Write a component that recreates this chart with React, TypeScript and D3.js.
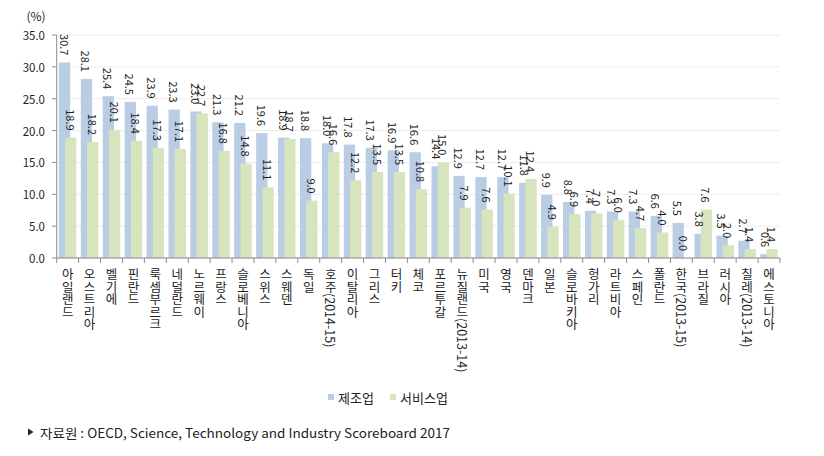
import React from "react";
import * as d3 from "d3";

const countries = [
  "아일랜드", "오스트리아", "벨기에", "핀란드", "룩셈부르크", "네덜란드", "노르웨이", "프랑스",
  "슬로베니아", "스위스", "스웨덴", "독일", "호주(2014-15)", "이탈리아", "그리스", "터키",
  "체코", "포르투갈", "뉴질랜드(2013-14)", "미국", "영국", "덴마크", "일본", "슬로바키아",
  "헝가리", "라트비아", "스페인", "폴란드", "한국(2013-15)", "브라질", "러시아", "칠레(2013-14)", "에스토니아",
];
const manufacturing = [
  30.7, 28.1, 25.4, 24.5, 23.9, 23.3, 23.0, 21.3, 21.2, 19.6, 18.9, 18.8, 18.0, 17.8, 17.3, 16.9,
  16.6, 14.4, 12.9, 12.7, 12.7, 11.8, 9.9, 8.8, 7.4, 7.3, 7.3, 6.6, 5.5, 3.8, 3.5, 2.7, 0.6,
];
const services = [
  18.9, 18.2, 20.1, 18.4, 17.3, 17.1, 22.7, 16.8, 14.8, 11.1, 18.7, 9.0, 16.6, 12.2, 13.5, 13.5,
  10.8, 15.0, 7.9, 7.6, 10.1, 12.4, 4.9, 6.9, 7.0, 6.0, 4.7, 4.0, 0.0, 7.6, 2.0, 1.4, 1.4,
];
const yTicks = [0, 5, 10, 15, 20, 25, 30, 35];
const seriesNames = ["제조업", "서비스업"];
const colors = ["#B9CDE5", "#D7E4BD"];

const W = 824;
const H = 456;
const FONT = "'Noto Sans CJK KR', 'Noto Sans', sans-serif";

export default function App() {
  const x = d3.scaleBand<string>().domain(countries).range([56.7, 780]).padding(0);
  const y = d3.scaleLinear().domain([0, 35]).range([258, 35]);
  const bw = x.bandwidth();
  const sub = d3.scaleLinear().domain([0, 1]).range([0, bw]);
  const barW = sub(0.515);
  const offs = [sub(0.1), sub(0.383)];
  const series = [manufacturing, services];
  const fmt = d3.format(".1f");

  return (
    <svg
      width={W}
      height={H}
      style={{ position: "absolute", left: 0, top: 0, background: "#fff" }}
      fontFamily={FONT}
    >
      {/* gridlines */}
      {yTicks.map((t) => (
        <line key={"g" + t} x1={56.7} x2={780} y1={y(t)} y2={y(t)} stroke="#ececec" strokeWidth={1} />
      ))}
      {/* y axis */}
      <line x1={56.7} x2={56.7} y1={y(35)} y2={y(0)} stroke="#8c8c8c" />
      {yTicks.map((t) => (
        <g key={"yt" + t}>
          <line x1={52} x2={56.7} y1={y(t)} y2={y(t)} stroke="#8c8c8c" />
          <text x={45} y={y(t)} textAnchor="end" dominantBaseline="central" fontSize={11.5} fill="#222">
            {fmt(t)}
          </text>
        </g>
      ))}
      <text x={36} y={15} textAnchor="middle" dominantBaseline="central" fontSize={12} fill="#222">
        (%)
      </text>
      {/* bars */}
      {series.map((vals, si) =>
        vals.map((v, i) => (
          <rect
            key={`b${si}-${i}`}
            x={(x(countries[i]) as number) + offs[si]}
            y={y(v)}
            width={barW}
            height={y(0) - y(v)}
            fill={colors[si]}
          />
        ))
      )}
      {/* x axis */}
      <line x1={56.7} x2={780} y1={y(0)} y2={y(0)} stroke="#8c8c8c" />
      {countries.map((c, i) => (
        <line
          key={"xt" + i}
          x1={(x(c) as number)}
          x2={(x(c) as number)}
          y1={y(0)}
          y2={y(0) + 5}
          stroke="#8c8c8c"
        />
      ))}
      <line x1={780} x2={780} y1={y(0)} y2={y(0) + 5} stroke="#8c8c8c" />
      {/* value labels */}
      {series.map((vals, si) =>
        vals.map((v, i) => {
          const cx = (x(countries[i]) as number) + offs[si] + barW / 2;
          const cy = y(v) - 7;
          return (
            <text
              key={`l${si}-${i}`}
              transform={`translate(${cx},${cy}) rotate(90)`}
              textAnchor="end"
              dominantBaseline="central"
              fontSize={11}
              fill="#222"
            >
              {fmt(v)}
            </text>
          );
        })
      )}
      {/* category labels */}
      {countries.map((c) => (
        <text
          key={"c" + c}
          x={(x(c) as number) + bw / 2}
          y={268}
          fontSize={12.5}
          fill="#222"
          style={{ writingMode: "vertical-rl" as any }}
        >
          {c}
        </text>
      ))}
      {/* legend */}
      {seriesNames.map((n, i) => {
        const lx = [328, 390][i];
        return (
          <g key={"lg" + i}>
            <rect x={lx} y={394} width={6} height={6} fill={colors[i]} />
            <text x={lx + 10} y={397} dominantBaseline="central" fontSize={13} fill="#222">
              {n}
            </text>
          </g>
        );
      })}
      {/* source */}
      <path d="M28,428.5 L33.5,432 L28,435.5 Z" fill="#222" />
      <text
        x={40}
        y={432}
        dominantBaseline="central"
        fontSize={13}
        fill="#222"
        textLength={410}
        lengthAdjust="spacingAndGlyphs"
      >
        자료원 : OECD, Science, Technology and Industry Scoreboard 2017
      </text>
    </svg>
  );
}
